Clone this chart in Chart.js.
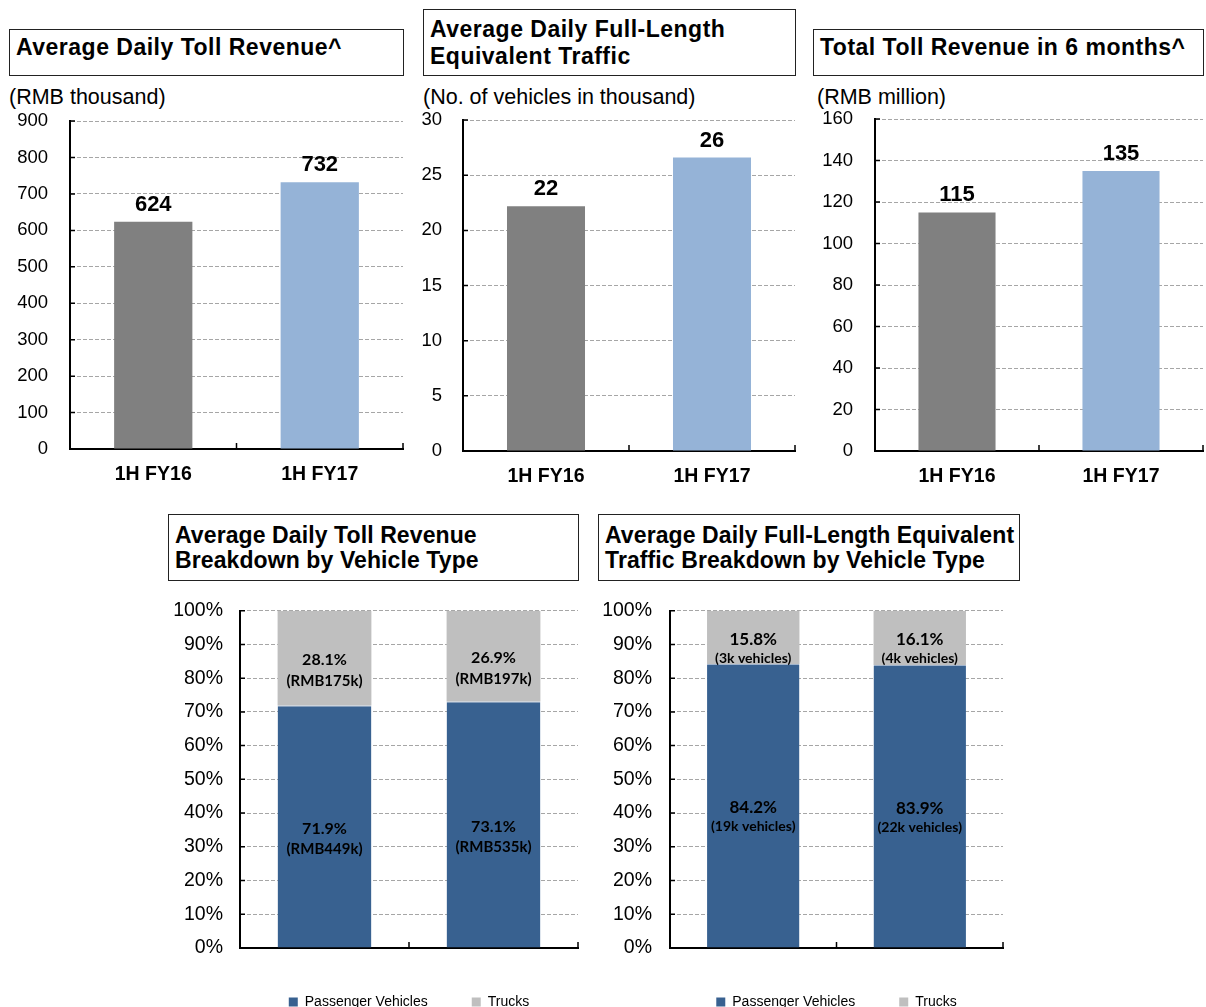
<!DOCTYPE html>
<html>
<head>
<meta charset="utf-8">
<title>Toll Revenue and Traffic</title>
<script src="https://cdn.jsdelivr.net/npm/chart.js@4.4.0/dist/chart.umd.min.js"></script>
<style>
    html, body { margin: 0; padding: 0; width: 1206px; height: 1007px; overflow: hidden; background: #fff; }
    body { position: relative; font-family: "Liberation Sans", Arial, sans-serif; color: #000; }
    .title-box {
        position: absolute; box-sizing: border-box; border: 1.3px solid #222;
        font-weight: bold; font-size: 23px; line-height: 27px; padding-left: 6px;
        letter-spacing: 0.5px; white-space: nowrap; display: flex; align-items: center;
    }
    .title-box.single { padding-bottom: 10px; }
    .title-box.low { line-height: 25px; letter-spacing: 0.1px; }
    .unit { position: absolute; font-size: 21.5px; line-height: 24px; white-space: nowrap; }
    .chart-box { position: absolute; }
</style>
</head>
<body>

<!-- ==================== TITLES ==================== -->
<div class="title-box single" style="left:9px; top:29px; width:395px; height:47px;">Average Daily Toll Revenue^</div>
<div class="title-box" style="left:423px; top:9px; width:373px; height:67px;">Average Daily Full-Length<br>Equivalent Traffic</div>
<div class="title-box single" style="left:813px; top:29px; width:391px; height:47px;">Total Toll Revenue in 6 months^</div>
<div class="title-box low" style="left:168px; top:514px; width:411px; height:67px;">Average Daily Toll Revenue<br>Breakdown by Vehicle Type</div>
<div class="title-box low" style="left:598px; top:514px; width:422px; height:67px;">Average Daily Full-Length Equivalent<br>Traffic Breakdown by Vehicle Type</div>

<div class="unit" style="left:9px; top:85px;">(RMB thousand)</div>
<div class="unit" style="left:423px; top:85px;">(No. of vehicles in thousand)</div>
<div class="unit" style="left:817px; top:85px;">(RMB million)</div>

<!-- ==================== CANVASES ==================== -->
<div class="chart-box" style="left:0px; top:88px; width:410px; height:405px;"><canvas id="revenueChart"></canvas></div>
<div class="chart-box" style="left:410px; top:88px; width:395px; height:405px;"><canvas id="trafficChart"></canvas></div>
<div class="chart-box" style="left:810px; top:86px; width:396px; height:407px;"><canvas id="totalChart"></canvas></div>
<div class="chart-box" style="left:160px; top:582px; width:425px; height:437px;"><canvas id="revenueMixChart"></canvas></div>
<div class="chart-box" style="left:590px; top:581px; width:420px; height:438px;"><canvas id="trafficMixChart"></canvas></div>

<script>
/* ==================== DATA ==================== */
const PERIODS = ['1H FY16', '1H FY17'];

const DAILY_REVENUE = [624, 732];            // RMB thousand
const DAILY_REVENUE_LABELS = ['624', '732'];
const DAILY_TRAFFIC = [22.2, 26.6];          // vehicles, thousand
const DAILY_TRAFFIC_LABELS = ['22', '26'];
const TOTAL_REVENUE = [115, 135];            // RMB million
const TOTAL_REVENUE_LABELS = ['115', '135'];

const REVENUE_PASSENGER_PCT = [71.9, 73.1];
const REVENUE_TRUCK_PCT = [28.1, 26.9];
const REVENUE_PASSENGER_AMT = ['(RMB449k)', '(RMB535k)'];
const REVENUE_TRUCK_AMT = ['(RMB175k)', '(RMB197k)'];

const TRAFFIC_PASSENGER_PCT = [84.2, 83.9];
const TRAFFIC_TRUCK_PCT = [15.8, 16.1];
const TRAFFIC_PASSENGER_CNT = ['(19k vehicles)', '(22k vehicles)'];
const TRAFFIC_TRUCK_CNT = ['(3k vehicles)', '(4k vehicles)'];

/* ==================== STYLE ==================== */
const AXIS_FONT = '"Liberation Sans", Arial, sans-serif';
const INNER_FONT = 'Lato, "Open Sans", sans-serif';
const COLOR_FY16 = '#808080';
const COLOR_FY17 = '#95B3D7';
const COLOR_PASSENGER = '#386190';
const COLOR_TRUCK = '#BFBFBF';
const GRID_COLOR = '#a6a6a6';

Chart.defaults.animation = false;
Chart.defaults.color = '#000';

// Value labels: above the bar for single series, centred two-liners for stacked ones
const barLabelPlugin = {
    id: 'barLabels',
    afterDatasetsDraw(chart) {
        const ctx = chart.ctx;
        ctx.save();
        ctx.fillStyle = '#000';
        ctx.textAlign = 'center';
        chart.data.datasets.forEach((ds, di) => {
            const meta = chart.getDatasetMeta(di);
            meta.data.forEach((bar, i) => {
                if (ds.topLabels) {
                    ctx.font = 'bold 22px ' + AXIS_FONT;
                    ctx.textBaseline = 'alphabetic';
                    ctx.fillText(ds.topLabels[i], bar.x, bar.y - 11);
                }
                if (ds.subLabels) {
                    const mid = (bar.y + bar.base) / 2;
                    const f = ds.labelFont;
                    ctx.textBaseline = 'middle';
                    ctx.font = 'bold ' + f.main + 'px ' + INNER_FONT;
                    ctx.fillText(ds.data[i].toFixed(1) + '%', bar.x, mid + 2);
                    ctx.font = 'bold ' + f.sub + 'px ' + INNER_FONT;
                    ctx.fillText(ds.subLabels[i], bar.x, mid + 2 + f.gap);
                }
            });
        });
        ctx.restore();
    }
};

// Small tick marks drawn inside the plot, like the spreadsheet original
const innerTicksPlugin = {
    id: 'innerTicks',
    afterDraw(chart) {
        const ctx = chart.ctx;
        const x = chart.scales.x, y = chart.scales.y;
        const half = (x.getPixelForValue(1) - x.getPixelForValue(0)) / 2;
        ctx.save();
        ctx.strokeStyle = '#000';
        ctx.lineWidth = 1.5;
        ctx.beginPath();
        y.ticks.forEach((t, i) => {
            const py = y.getPixelForTick(i);
            ctx.moveTo(x.left, py);
            ctx.lineTo(x.left + 5, py);
        });
        for (let i = 0; i < chart.data.labels.length; i++) {
            const px = x.getPixelForValue(i) + half;
            ctx.moveTo(px, y.bottom);
            ctx.lineTo(px, y.bottom - 6);
        }
        ctx.stroke();
        ctx.restore();
    }
};

/* ==================== SCALES ==================== */
function buildYScale(max, step, suffix, width, padding, fontSize, stacked) {
    return {
        stacked: stacked,
        min: 0,
        max: max,
        ticks: {
            stepSize: step,
            padding: padding,
            color: '#000',
            font: { family: AXIS_FONT, size: fontSize },
            callback: v => v + suffix
        },
        grid: { color: GRID_COLOR, lineWidth: 1, drawTicks: false },
        border: { color: '#000', width: 2, dash: [4, 2] },
        afterFit(scale) { scale.width = width; }
    };
}

function buildXScale(height, fontSize, padding, stacked) {
    return {
        stacked: stacked,
        grid: { display: false, drawTicks: false },
        border: { color: '#000', width: 2 },
        ticks: {
            color: '#000',
            padding: padding,
            maxRotation: 0,
            font: { family: AXIS_FONT, size: fontSize, weight: 'bold' }
        },
        afterFit(scale) { scale.height = height; }
    };
}

/* ==================== CHARTS ==================== */
function initSimpleChart(id, values, labels, yMax, yStep, geo) {
    const ctx = document.getElementById(id);
    return new Chart(ctx.getContext('2d'), {
        type: 'bar',
        data: {
            labels: PERIODS,
            datasets: [{
                data: values,
                topLabels: labels,
                backgroundColor: [COLOR_FY16, COLOR_FY17],
                categoryPercentage: 1,
                barPercentage: 0.47
            }]
        },
        options: {
            responsive: true,
            maintainAspectRatio: false,
            layout: { padding: { top: 0, right: geo.right, left: 0, bottom: 0 } },
            plugins: { legend: { display: false }, tooltip: { enabled: false } },
            scales: {
                x: buildXScale(geo.xHeight, 19.5, 14, false),
                y: buildYScale(yMax, yStep, '', geo.yWidth, geo.pad, 18.5, false)
            }
        },
        plugins: [barLabelPlugin, innerTicksPlugin]
    });
}

function initMixChart(id, passenger, truck, passengerText, truckText, fonts, geo) {
    const ctx = document.getElementById(id);
    return new Chart(ctx.getContext('2d'), {
        type: 'bar',
        data: {
            labels: PERIODS,
            datasets: [
                {
                    label: 'Passenger Vehicles',
                    data: passenger,
                    subLabels: passengerText,
                    labelFont: fonts,
                    backgroundColor: COLOR_PASSENGER,
                    borderColor: '#9fb3cc',
                    borderWidth: { top: 1, left: 0, right: 0, bottom: 0 },
                    borderSkipped: 'bottom',
                    categoryPercentage: 1,
                    barPercentage: 0.555
                },
                {
                    label: 'Trucks',
                    data: truck,
                    subLabels: truckText,
                    labelFont: fonts,
                    backgroundColor: COLOR_TRUCK,
                    categoryPercentage: 1,
                    barPercentage: 0.555
                }
            ]
        },
        options: {
            responsive: true,
            maintainAspectRatio: false,
            layout: { padding: { top: 0, right: geo.right, left: 0, bottom: 0 } },
            plugins: {
                tooltip: { enabled: false },
                legend: {
                    position: 'bottom',
                    fullSize: false,
                    labels: {
                        boxWidth: 9,
                        boxHeight: 9,
                        padding: 44,
                        color: '#000',
                        font: { family: AXIS_FONT, size: 14 },
                        generateLabels: chart => chart.data.datasets.map((ds, i) => ({
                            text: ds.label,
                            fillStyle: ds.backgroundColor,
                            strokeStyle: ds.backgroundColor,
                            lineWidth: 0,
                            datasetIndex: i
                        }))
                    }
                }
            },
            scales: {
                x: buildXScale(3, 20.5, 12, true),
                y: buildYScale(100, 10, '%', geo.yWidth, geo.pad, 19.5, true)
            }
        },
        plugins: [barLabelPlugin, innerTicksPlugin]
    });
}

document.addEventListener('DOMContentLoaded', function() {
    initSimpleChart('revenueChart', DAILY_REVENUE, DAILY_REVENUE_LABELS, 900, 100,
        { right: 7, yWidth: 70, pad: 22, xHeight: 44 });
    initSimpleChart('trafficChart', DAILY_TRAFFIC, DAILY_TRAFFIC_LABELS, 30, 5,
        { right: 10, yWidth: 53, pad: 21, xHeight: 42 });
    initSimpleChart('totalChart', TOTAL_REVENUE, TOTAL_REVENUE_LABELS, 160, 20,
        { right: 3, yWidth: 65, pad: 22, xHeight: 42 });

    initMixChart('revenueMixChart', REVENUE_PASSENGER_PCT, REVENUE_TRUCK_PCT,
        REVENUE_PASSENGER_AMT, REVENUE_TRUCK_AMT, { main: 16, sub: 15, gap: 21 },
        { right: 7, yWidth: 80, pad: 17 });
    initMixChart('trafficMixChart', TRAFFIC_PASSENGER_PCT, TRAFFIC_TRUCK_PCT,
        TRAFFIC_PASSENGER_CNT, TRAFFIC_TRUCK_CNT, { main: 17, sub: 14, gap: 19 },
        { right: 7, yWidth: 80, pad: 18 });
});
</script>
</body>
</html>
